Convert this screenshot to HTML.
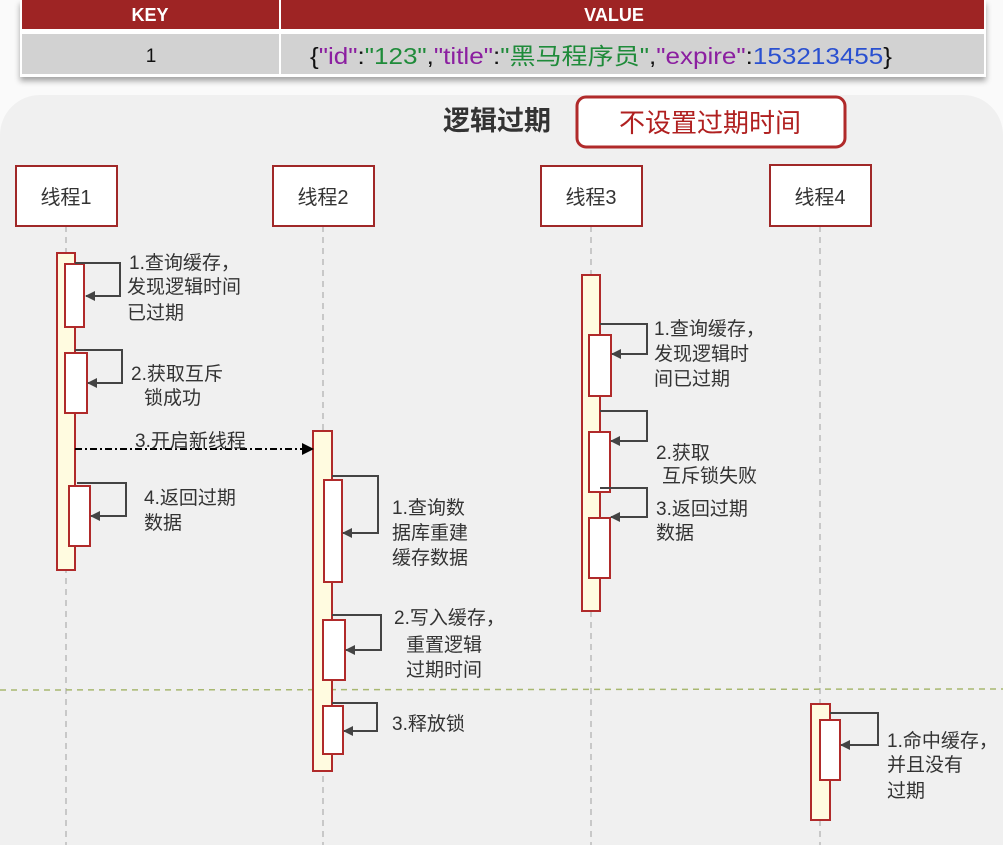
<!DOCTYPE html>
<html><head><meta charset="utf-8"><style>
html,body{margin:0;padding:0;background:#fff;width:1003px;height:845px;overflow:hidden;}
svg{display:block;}
text{font-family:"Liberation Sans","Noto Sans CJK SC",sans-serif;}
</style></head><body>
<svg width="1003" height="845" viewBox="0 0 1003 845" xmlns="http://www.w3.org/2000/svg">
<defs>
<marker id="ah" markerWidth="10" markerHeight="10" refX="9" refY="5" orient="auto" markerUnits="userSpaceOnUse"><path d="M0,0 L10,5 L0,10 z" fill="#444"/></marker>
<marker id="ab" markerWidth="12" markerHeight="12" refX="11" refY="6" orient="auto" markerUnits="userSpaceOnUse"><path d="M0,0 L12,6 L0,12 z" fill="#000"/></marker>
<filter id="sh" x="-5%" y="-20%" width="110%" height="160%"><feDropShadow dx="0" dy="4" stdDeviation="3" flood-color="#000" flood-opacity="0.35"/></filter>
</defs>
<rect width="1003" height="845" fill="#fafafa"/>
<rect x="20" y="0" width="966" height="77" fill="#fff" filter="url(#sh)"/>
<rect x="22" y="0" width="962" height="29" fill="#9e2424"/>
<rect x="22" y="34" width="962" height="40" fill="#d2d2d2"/>
<rect x="279" y="0" width="2" height="75" fill="#fff"/>
<text x="150" y="21" font-size="18" font-weight="bold" fill="#fff" text-anchor="middle">KEY</text>
<text x="614" y="21" font-size="18" font-weight="bold" fill="#fff" text-anchor="middle">VALUE</text>
<text x="151" y="62" font-size="19" fill="#111" text-anchor="middle">1</text>
<text x="310" y="64" font-size="23" fill="#111" textLength="582" lengthAdjust="spacingAndGlyphs">{<tspan fill="#8b1fa0">"id"</tspan>:<tspan fill="#1f8b3a">"123"</tspan>,<tspan fill="#8b1fa0">"title"</tspan>:<tspan fill="#1f8b3a">"黑马程序员"</tspan>,<tspan fill="#8b1fa0">"expire"</tspan>:<tspan fill="#2a50d0">153213455</tspan>}</text>
<path d="M0,135 A40,40 0 0 1 40,95 L963,95 A40,40 0 0 1 1003,135 L1003,845 L0,845 Z" fill="#f0f0f0"/>
<text x="443" y="130" font-size="27" font-weight="bold" fill="#333">逻辑过期</text>
<rect x="577" y="97" width="268" height="50" rx="9" fill="#fff" stroke="#b02a2a" stroke-width="3"/>
<text x="710" y="132" font-size="26" fill="#b02020" text-anchor="middle">不设置过期时间</text>
<g stroke="#bbb" stroke-width="1.5" stroke-dasharray="6,5">
<line x1="66" y1="226" x2="66" y2="845"/>
<line x1="323" y1="226" x2="323" y2="845"/>
<line x1="591" y1="226" x2="591" y2="845"/>
<line x1="820" y1="226" x2="820" y2="845"/>
</g>
<line x1="0" y1="690" x2="1003" y2="689" stroke="#a8b870" stroke-width="1.5" stroke-dasharray="6,5"/>
<g fill="#fff" stroke="#a02828" stroke-width="2">
<rect x="16" y="166" width="101" height="60"/>
<rect x="273" y="166" width="101" height="60"/>
<rect x="541" y="166" width="101" height="60"/>
<rect x="770" y="165" width="101" height="61"/>
</g>
<g font-size="20" fill="#333" text-anchor="middle">
<text x="66" y="204">线程1</text><text x="323" y="204">线程2</text><text x="591" y="204">线程3</text><text x="820" y="204">线程4</text>
</g>
<g fill="#fffbe0" stroke="#b02a2a" stroke-width="2">
<rect x="57" y="253" width="18" height="317"/>
<rect x="313" y="431" width="19" height="340"/>
<rect x="582" y="275" width="18" height="336"/>
<rect x="811" y="704" width="19" height="116"/>
</g>
<g fill="#fff" stroke="#b02a2a" stroke-width="2">
<rect x="65" y="264" width="19" height="63"/>
<rect x="65" y="353" width="22" height="60"/>
<rect x="69" y="486" width="21" height="60"/>
<rect x="324" y="480" width="18" height="102"/>
<rect x="323" y="620" width="22" height="60"/>
<rect x="323" y="706" width="20" height="48"/>
<rect x="589" y="335" width="22" height="61"/>
<rect x="589" y="432" width="21" height="60"/>
<rect x="589" y="518" width="21" height="60"/>
<rect x="820" y="720" width="20" height="60"/>
</g>
<g fill="none" stroke="#444" stroke-width="2" marker-end="url(#ah)">
<polyline points="75,263 120,263 120,296 86,296"/>
<polyline points="75,350 122,350 122,383 88,383"/>
<polyline points="77,483 126,483 126,516 91,516"/>
<polyline points="332,476 378,476 378,533 343,533"/>
<polyline points="332,615 381,615 381,650 346,650"/>
<polyline points="332,703 377,703 377,731 344,731"/>
<polyline points="600,324 647,324 647,354 612,354"/>
<polyline points="600,411 647,411 647,441 611,441"/>
<polyline points="600,488 647,488 647,517 611,517"/>
<polyline points="830,713 878,713 878,745 841,745"/>
</g>
<line x1="75" y1="449" x2="313" y2="449" stroke="#000" stroke-width="2" stroke-dasharray="7,3,2,3" marker-end="url(#ab)"/>
<g font-size="19" fill="#333">
<text x="129" y="269">1.查询缓存，</text><text x="127" y="293">发现逻辑时间</text><text x="127" y="319">已过期</text>
<text x="131" y="380">2.获取互斥</text><text x="144" y="404">锁成功</text>
<text x="135" y="447">3.开启新线程</text>
<text x="144" y="504">4.返回过期</text><text x="144" y="529">数据</text>
<text x="392" y="514">1.查询数</text><text x="392" y="539">据库重建</text><text x="392" y="564">缓存数据</text>
<text x="394" y="624">2.写入缓存，</text><text x="406" y="651">重置逻辑</text><text x="406" y="676">过期时间</text>
<text x="392" y="730">3.释放锁</text>
<text x="654" y="335">1.查询缓存，</text><text x="654" y="360">发现逻辑时</text><text x="654" y="385">间已过期</text>
<text x="656" y="459">2.获取</text><text x="662" y="482">互斥锁失败</text>
<text x="656" y="515">3.返回过期</text><text x="656" y="539">数据</text>
<text x="887" y="747">1.命中缓存，</text><text x="887" y="771">并且没有</text><text x="887" y="797">过期</text>
</g>
</svg>
</body></html>
